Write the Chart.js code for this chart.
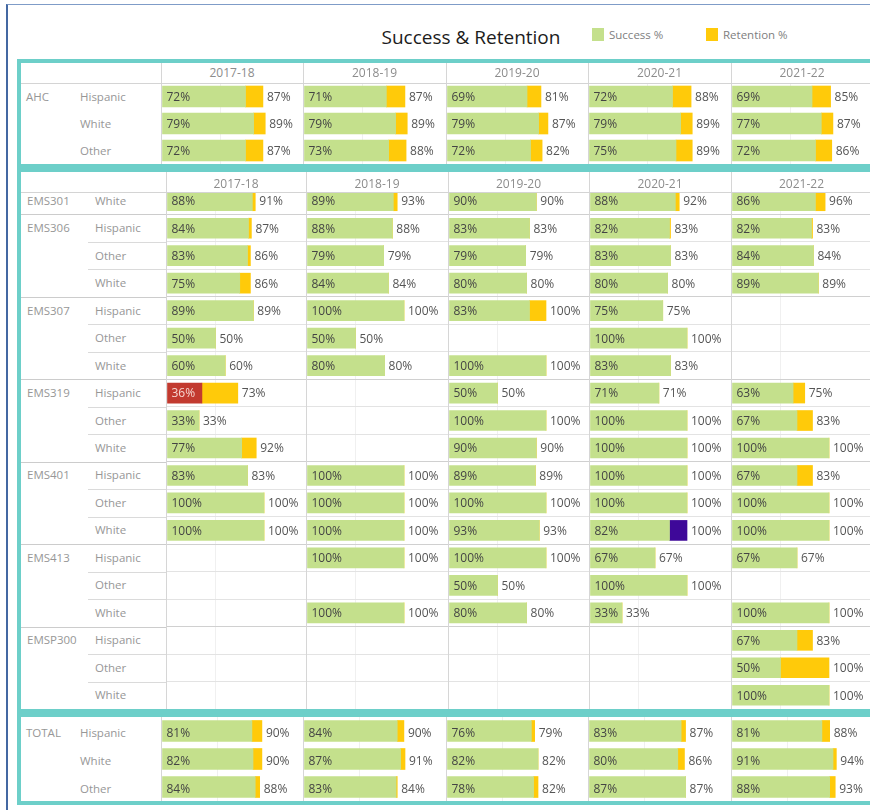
<html>
<head>
	<meta charset="utf-8">
	<title>Success &amp; Retention</title>
	<script src="https://cdn.jsdelivr.net/npm/chart.js@4.4.0/dist/chart.umd.min.js"></script>
	<style>
		* { box-sizing: border-box; }
		body { margin: 0; width: 870px; height: 810px; overflow: hidden; background: #fff; position: relative; font-family: 'Open Sans', sans-serif; }
		div, canvas { position: absolute; }
		.teal { border: 4px solid #6dcfc9; background: #fff; }
		.year { text-align: center; font-size: 12px; color: #8c8c8c; }
		.lbl { font-size: 11.5px; color: #979797; white-space: nowrap; height: 18px; line-height: 18px; }
		.vline { width: 1px; background: #d6d6d6; z-index: 4; }
		.hline { height: 1px; background: #d4d4d4; z-index: 4; }
	</style>
</head>
<body>
	<div id="frame" style="left:6px;top:4px;width:900px;height:900px;border-left:2px solid #4468a2;border-top:1px solid #7f9cc8;"></div>
	<div style="left:371px;top:25px;width:200px;height:24px;line-height:24px;text-align:center;font-size:19px;color:#1c1c1c;">Success &amp; Retention</div>
	<div style="left:592px;top:28px;width:12px;height:13px;background:#c4e08c;"></div>
	<div style="left:609px;top:27px;line-height:16px;font-size:11.5px;color:#808080;">Success %</div>
	<div style="left:706px;top:28px;width:12px;height:13px;background:#ffca0a;"></div>
	<div style="left:723px;top:27px;line-height:16px;font-size:11.5px;color:#808080;">Retention %</div>

	<div class="teal" style="left:17px;top:59px;width:900px;height:109px;"></div>
	<div class="teal" style="left:17px;top:168px;width:900px;height:545px;"></div>
	<div class="teal" style="left:17px;top:713px;width:900px;height:92px;"></div>

	<script>
		const years = ['2017-18', '2018-19', '2019-20', '2020-21', '2021-22'];

		// AHC overall
		const ahcEthnicity = ['Hispanic', 'White', 'Other'];
		const ahcSuccess = [
			[72, 71, 69, 72, 69],
			[79, 79, 79, 79, 77],
			[72, 73, 72, 75, 72],
		];
		const ahcRetention = [
			[87, 87, 81, 88, 85],
			[89, 89, 87, 89, 87],
			[87, 88, 82, 89, 86],
		];

		// EMS courses, one row per course / ethnicity
		const emsCourses = ['EMS301', 'EMS306', 'EMS306', 'EMS306', 'EMS307', 'EMS307', 'EMS307', 'EMS319', 'EMS319', 'EMS319',
			'EMS401', 'EMS401', 'EMS401', 'EMS413', 'EMS413', 'EMS413', 'EMSP300', 'EMSP300', 'EMSP300'];
		const emsEthnicity = ['White', 'Hispanic', 'Other', 'White', 'Hispanic', 'Other', 'White', 'Hispanic', 'Other', 'White',
			'Hispanic', 'Other', 'White', 'Hispanic', 'Other', 'White', 'Hispanic', 'Other', 'White'];
		const emsSuccess = [
			[88, 89, 90, 88, 86],
			[84, 88, 83, 82, 82],
			[83, 79, 79, 83, 84],
			[75, 84, 80, 80, 89],
			[89, 100, 83, 75, null],
			[50, 50, null, 100, null],
			[60, 80, 100, 83, null],
			[36, null, 50, 71, 63],
			[33, null, 100, 100, 67],
			[77, null, 90, 100, 100],
			[83, 100, 89, 100, 67],
			[100, 100, 100, 100, 100],
			[100, 100, 93, 82, 100],
			[null, 100, 100, 67, 67],
			[null, null, 50, 100, null],
			[null, 100, 80, 33, 100],
			[null, null, null, null, 67],
			[null, null, null, null, 50],
			[null, null, null, null, 100],
		];
		const emsRetention = [
			[91, 93, 90, 92, 96],
			[87, 88, 83, 83, 83],
			[86, 79, 79, 83, 84],
			[86, 84, 80, 80, 89],
			[89, 100, 100, 75, null],
			[50, 50, null, 100, null],
			[60, 80, 100, 83, null],
			[73, null, 50, 71, 75],
			[33, null, 100, 100, 83],
			[92, null, 90, 100, 100],
			[83, 100, 89, 100, 83],
			[100, 100, 100, 100, 100],
			[100, 100, 93, 100, 100],
			[null, 100, 100, 67, 67],
			[null, null, 50, 100, null],
			[null, 100, 80, 33, 100],
			[null, null, null, null, 83],
			[null, null, null, null, 100],
			[null, null, null, null, 100],
		];

		// Totals
		const totalEthnicity = ['Hispanic', 'White', 'Other'];
		const totalSuccess = [
			[81, 84, 76, 83, 81],
			[82, 87, 82, 80, 91],
			[84, 83, 78, 87, 88],
		];
		const totalRetention = [
			[90, 90, 79, 87, 88],
			[90, 91, 82, 86, 94],
			[88, 84, 82, 87, 93],
		];

		const GREEN = '#c4e08c';
		const YELLOW = '#ffca0a';
		const RED = '#c23a2f';
		const PURPLE = '#3e0899';

		// flagged cells: panel|row|year|dataset
		const flagged = {
			'ems|7|0|0': RED,
			'ems|12|3|1': PURPLE,
		};

		const barLabels = {
			id: 'barLabels',
			afterDatasetsDraw(chart, args, opts) {
				const ctx = chart.ctx;
				const sMeta = chart.getDatasetMeta(0);
				const rMeta = chart.getDatasetMeta(1);
				const sData = chart.data.datasets[0].data;
				const rData = chart.data.datasets[1].retention;
				const dy = opts.dy || 1;
				ctx.save();
				ctx.font = '12px "Open Sans"';
				ctx.textBaseline = 'middle';
				ctx.textAlign = 'left';
				sMeta.data.forEach((bar, i) => {
					if (sData[i] == null) return;
					ctx.fillStyle = bar.options.backgroundColor === RED ? '#f6d6d0' : '#444';
					ctx.fillText(sData[i] + '%', bar.base + 4, bar.y + dy);
					ctx.fillStyle = '#555';
					ctx.fillText(rData[i] + '%', rMeta.data[i].x + 4, bar.y + dy);
				});
				ctx.restore();
			}
		};

		function addDiv(cls, css, text) {
			const d = document.createElement('div');
			d.className = cls;
			Object.assign(d.style, css);
			if (text) d.textContent = text;
			document.body.appendChild(d);
			return d;
		}

		function drawPanel(key, lay, success, retention, courses, ethnicity) {
			const n = ethnicity.length;
			const h = Math.round(lay.rowH * n);
			const rowH = h / n;

			// row labels
			ethnicity.forEach((eth, i) => {
				const yc = lay.top + (i + 0.5) * rowH + lay.textDy - 1;
				if (i === 0 || courses[i] !== courses[i - 1]) {
					addDiv('lbl', { left: lay.progX + 'px', top: (yc - 9) + 'px', zIndex: 2 }, courses[i]);
				}
				addDiv('lbl', { left: lay.ethX + 'px', top: (yc - 9) + 'px', zIndex: 2 }, eth);
				if (lay.rowLines && i > 0) {
					const grp = courses[i] !== courses[i - 1];
					addDiv('hline', {
						left: (grp ? 21 : 88) + 'px', top: Math.round(lay.top + i * rowH) + 'px',
						width: (lay.cols[0] - (grp ? 21 : 88)) + 'px', background: grp ? '#cccccc' : '#dadada'
					});
				}
			});

			for (let c = 0; c < years.length; c++) {
				const x0 = lay.cols[c] + 1;
				const w = lay.cols[c + 1] - lay.cols[c] - 1;
				const cv = document.createElement('canvas');
				cv.width = w;
				cv.height = h;
				cv.style.left = x0 + 'px';
				cv.style.top = lay.top + 'px';
				cv.style.zIndex = 1;
				document.body.appendChild(cv);

				const s = success.map((r) => r[c]);
				const r = retention.map((row) => row[c]);
				const gap = s.map((v, i) => (v == null ? null : r[i] - v));

				new Chart(cv, {
					type: 'bar',
					data: {
						labels: ethnicity.map((e, i) => courses[i] + ' ' + e),
						datasets: [
							{
								data: s,
								backgroundColor: (ctx) => flagged[`${key}|${ctx.dataIndex}|${c}|0`] || GREEN,
								barThickness: lay.thick,
								stack: 'a',
							},
							{
								data: gap,
								retention: r,
								backgroundColor: (ctx) => flagged[`${key}|${ctx.dataIndex}|${c}|1`] || YELLOW,
								barThickness: lay.thick,
								stack: 'a',
							},
						],
					},
					options: {
						indexAxis: 'y',
						responsive: false,
						animation: false,
						events: [],
						layout: { padding: 0 },
						scales: {
							x: {
								stacked: true,
								min: 0,
								max: w * 100 / lay.px100,
								border: { display: false },
								ticks: { display: false, stepSize: 50 },
								grid: {
									drawTicks: false,
									color: (ctx) => (ctx.tick && (ctx.tick.value === 50 || ctx.tick.value === 100)) ? '#f0f0f0' : 'rgba(0,0,0,0)',
								},
							},
							y: {
								stacked: true,
								display: lay.rowLines,
								border: { display: false },
								ticks: { display: false },
								grid: {
									offset: true,
									drawTicks: false,
									color: (ctx) => {
										const i = ctx.index;
										if (i === 0 || i >= n) return 'rgba(0,0,0,0)';
										return courses[i] !== courses[i - 1] ? '#d0d0d0' : '#e3e3e3';
									},
								},
							},
						},
						plugins: {
							legend: { display: false },
							tooltip: { enabled: false },
							barLabels: { dy: lay.textDy },
						},
					},
					plugins: [barLabels],
				});
			}
		}

		function drawFrame(lay, innerTop, innerBottom, header) {
			lay.cols.forEach((x) => {
				if (x > 870) return;
				addDiv('vline', { left: x + 'px', top: innerTop + 'px', height: (innerBottom - innerTop) + 'px' });
			});
			if (header) {
				addDiv('', { left: '21px', top: innerTop + 'px', width: '860px', height: header.h + 'px', background: '#fff', zIndex: 3 });
				addDiv('hline', { left: '21px', top: (innerTop + header.h) + 'px', width: '860px' });
				years.forEach((y, c) => {
					addDiv('year', {
						left: lay.cols[c] + 'px', top: innerTop + 'px', width: (lay.cols[c + 1] - lay.cols[c]) + 'px',
						height: header.h + 'px', lineHeight: header.lh + 'px', zIndex: 4
					}, y);
				});
			}
		}

		const ahcLayout = { cols: [161, 303, 446, 588, 731, 873], top: 83, rowH: 27, px100: 116, thick: 21, progX: 26, ethX: 80, rowLines: false, textDy: 1.5 };
		const emsLayout = { cols: [166, 306, 448, 589, 731, 872], top: 187, rowH: 27.47, px100: 97, thick: 20, progX: 27, ethX: 95, rowLines: true, textDy: 1 };
		const totalLayout = { cols: [161, 303, 446, 588, 731, 873], top: 717, rowH: 28, px100: 111, thick: 21, progX: 26, ethX: 80, rowLines: false, textDy: 2.5 };

		drawPanel('ahc', ahcLayout, ahcSuccess, ahcRetention, ahcEthnicity.map(() => 'AHC'), ahcEthnicity);
		drawPanel('ems', emsLayout, emsSuccess, emsRetention, emsCourses, emsEthnicity);
		drawPanel('total', totalLayout, totalSuccess, totalRetention, totalEthnicity.map(() => 'TOTAL'), totalEthnicity);

		drawFrame(ahcLayout, 63, 164, { h: 20, lh: 20 });
		drawFrame(emsLayout, 172, 709, { h: 20, lh: 24 });
		drawFrame(totalLayout, 717, 801, null);
	</script>
</body>
</html>
